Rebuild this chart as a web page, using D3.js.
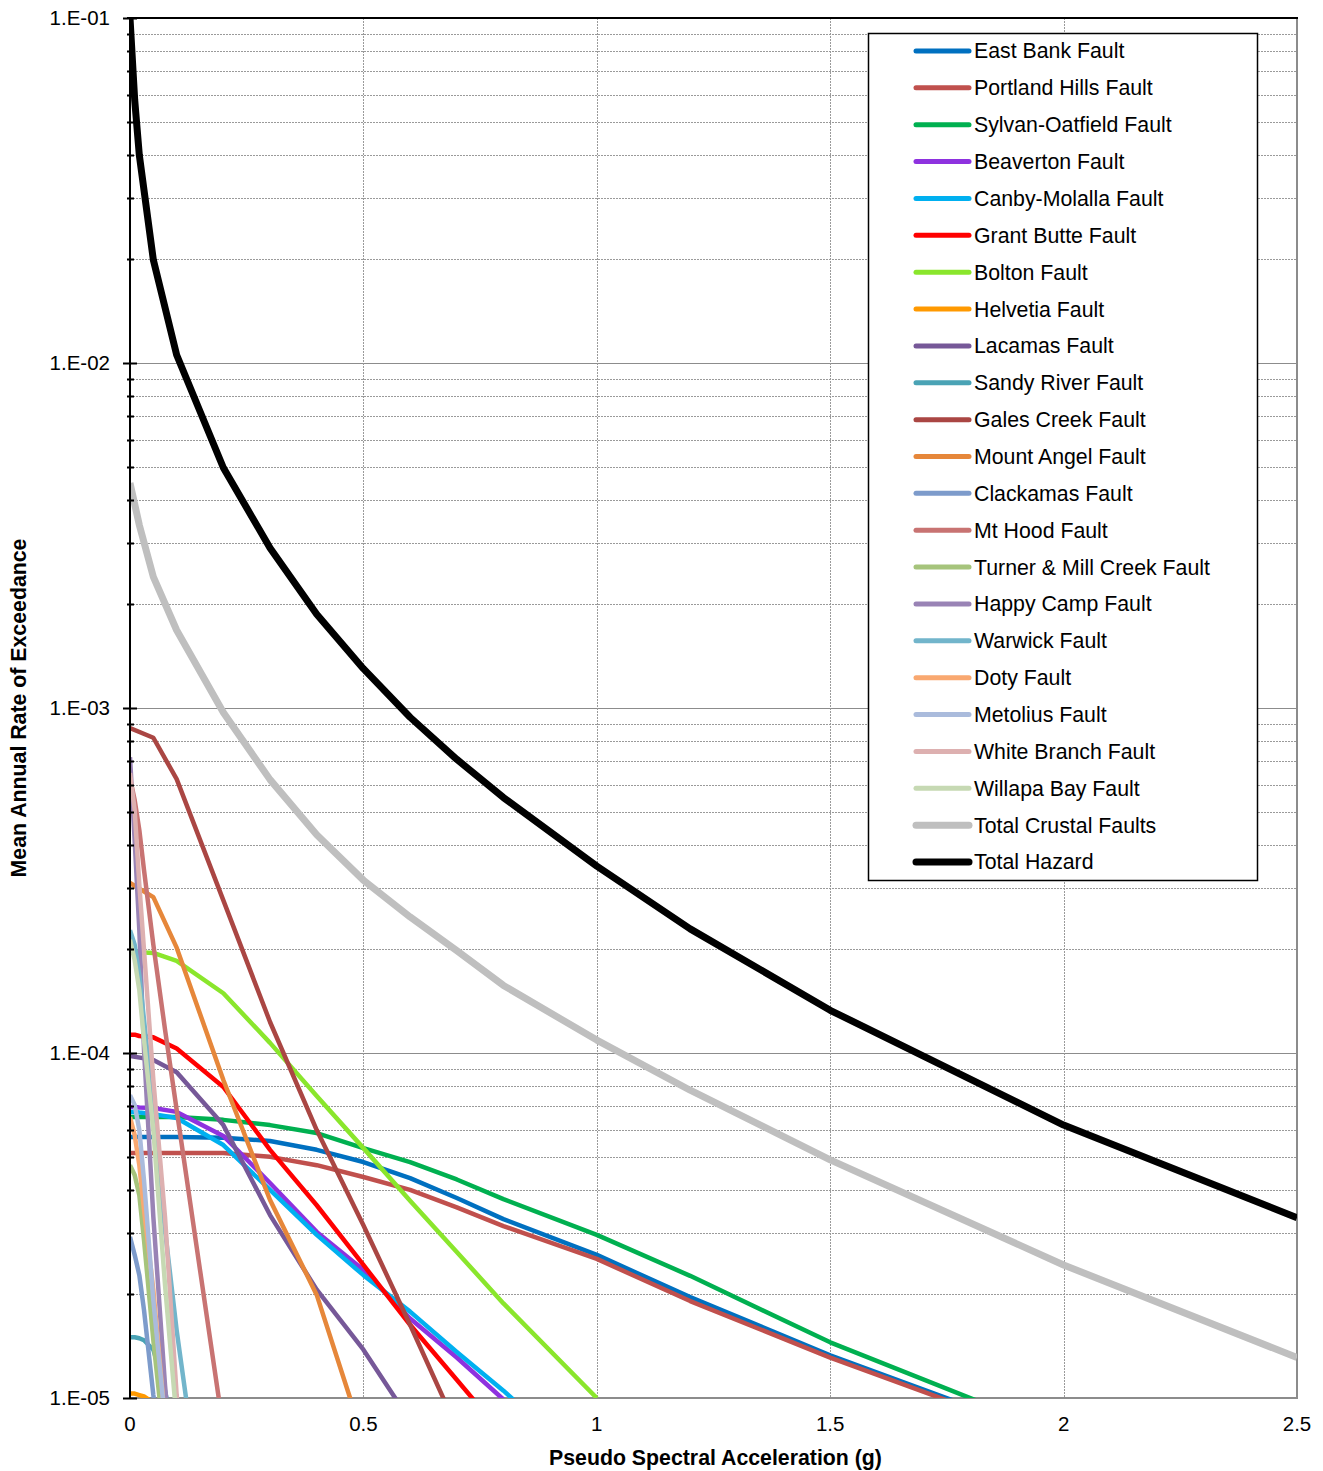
<!DOCTYPE html>
<html>
<head>
<meta charset="utf-8">
<script src="https://cdn.jsdelivr.net/npm/d3@7"></script>
<style>
  body { margin: 0; background: #fff; }
  svg { display: block; font-family: "Liberation Sans", Arial, sans-serif; }
</style>
</head>
<body>
<svg id="chart"></svg>
<script>
// x grids (g)
const pgaFull = [0, 0.01, 0.02, 0.05, 0.1, 0.2, 0.3, 0.4, 0.5, 0.6, 0.7, 0.8, 1.0, 1.2, 1.5, 2.0, 2.5];
const pgaMid = [0, 0.05, 0.1, 0.2, 0.3, 0.4, 0.5, 0.6, 0.7, 0.8];
const pgaNear = [0, 0.01, 0.02, 0.03, 0.05, 0.075, 0.1, 0.15, 0.2];

// mean annual rate of exceedance
const eastBank = [5.71e-5, 5.71e-5, 5.71e-5, 5.71e-5, 5.71e-5, 5.68e-5, 5.56e-5, 5.24e-5, 4.83e-5, 4.34e-5, 3.8e-5, 3.3e-5, 2.6e-5, 1.96e-5, 1.33e-5, 7.5e-6];
const portlandHills = [5.13e-5, 5.13e-5, 5.13e-5, 5.13e-5, 5.13e-5, 5.13e-5, 5.0e-5, 4.73e-5, 4.37e-5, 4.01e-5, 3.57e-5, 3.15e-5, 2.53e-5, 1.91e-5, 1.31e-5, 7.4e-6];
const sylvanOatfield = [6.52e-5, 6.52e-5, 6.52e-5, 6.52e-5, 6.52e-5, 6.4e-5, 6.18e-5, 5.86e-5, 5.3e-5, 4.83e-5, 4.3e-5, 3.77e-5, 2.97e-5, 2.26e-5, 1.45e-5, 7.8e-6];
const beaverton = [6.97e-5, 6.97e-5, 6.95e-5, 6.93e-5, 6.75e-5, 5.75e-5, 4.2e-5, 3.03e-5, 2.35e-5, 1.7e-5, 1.31e-5, 9.9e-6];
const canbyMolalla = [6.75e-5, 6.75e-5, 6.72e-5, 6.65e-5, 6.48e-5, 5.41e-5, 4.01e-5, 2.97e-5, 2.27e-5, 1.78e-5, 1.36e-5, 1.05e-5, 6e-6];
const grantButte = [1.13e-4, 1.13e-4, 1.12e-4, 1.11e-4, 1.03e-4, 7.97e-5, 5.24e-5, 3.62e-5, 2.43e-5, 1.63e-5, 1.13e-5, 7.8e-6];
const bolton = [1.96e-4, 1.96e-4, 1.96e-4, 1.95e-4, 1.85e-4, 1.49e-4, 1.07e-4, 7.5e-5, 5.3e-5, 3.73e-5, 2.65e-5, 1.88e-5, 1.0e-5];
const helvetia = [1.03e-5, 1.03e-5, 1.02e-5, 1.01e-5, 9.7e-6];
const lacamas = [9.8e-5, 9.55e-5, 8.8e-5, 6.18e-5, 3.39e-5, 2.06e-5, 1.38e-5, 8.6e-6];
const sandyRiver = [1.5e-5, 1.5e-5, 1.49e-5, 1.47e-5, 1.38e-5, 1.05e-5, 7.1e-6];
const galesCreek = [8.75e-4, 8.2e-4, 6.22e-4, 2.77e-4, 1.23e-4, 5.98e-5, 3.17e-5, 1.63e-5, 8.2e-6];
const mountAngel = [3.11e-4, 2.83e-4, 2.02e-4, 8.35e-5, 3.75e-5, 1.99e-5, 7.6e-6];
const clackamas = [2.93e-5, 2.6e-5, 2.27e-5, 1.8e-5, 1.02e-5, 5.8e-6];
const mtHood = [6.27e-4, 5.41e-4, 4.43e-4, 3.39e-4, 2.06e-4, 1.17e-4, 6.84e-5, 2.35e-5, 8.1e-6];
const turnerMillCreek = [4.73e-5, 4.43e-5, 3.87e-5, 2.87e-5, 1.47e-5, 7.1e-6];
const happyCamp = [7.2e-4, 4.14e-4, 2.27e-4, 1.02e-4, 3.35e-5, 1.09e-5, 4.5e-6];
const warwick = [2.27e-4, 2.06e-4, 1.68e-4, 1.25e-4, 6.84e-5, 3.07e-5, 1.57e-5, 5.1e-6];
const doty = [6.52e-5, 5.78e-5, 4.73e-5, 3.51e-5, 2.06e-5, 8.6e-6];
const metolius = [7.55e-5, 7.07e-5, 5.98e-5, 4.28e-5, 1.92e-5, 8.6e-6];
const whiteBranch = [6.48e-4, 5.06e-4, 3.07e-4, 1.99e-4, 8.35e-5, 3.35e-5, 1.02e-5, 1.9e-6];
const willapaBay = [2.13e-4, 1.86e-4, 1.52e-4, 1.09e-4, 5.98e-5, 2.13e-5, 8.6e-6];
const totalCrustal = [4.49e-3, 3.9e-3, 3.39e-3, 2.4e-3, 1.68e-3, 9.7e-4, 6.2e-4, 4.29e-4, 3.17e-4, 2.48e-4, 1.98e-4, 1.57e-4, 1.09e-4, 7.8e-5, 4.9e-5, 2.43e-5, 1.31e-5];
const totalHazard = [0.1, 0.058, 0.040, 0.0199, 0.01055, 4.97e-3, 2.91e-3, 1.87e-3, 1.3e-3, 9.4e-4, 7.1e-4, 5.5e-4, 3.48e-4, 2.29e-4, 1.33e-4, 6.18e-5, 3.33e-5];

const xTicks = [0, 0.5, 1, 1.5, 2, 2.5];
const yMajor = [1e-5, 1e-4, 1e-3, 1e-2, 1e-1];

const series = [
  { name: 'East Bank Fault', x: pgaFull, y: eastBank, color: '#0070C0', w: 4.5 },
  { name: 'Portland Hills Fault', x: pgaFull, y: portlandHills, color: '#C0504D', w: 4.5 },
  { name: 'Sylvan-Oatfield Fault', x: pgaFull, y: sylvanOatfield, color: '#00B050', w: 4.5 },
  { name: 'Beaverton Fault', x: pgaFull, y: beaverton, color: '#8E32DF', w: 4.5 },
  { name: 'Canby-Molalla Fault', x: pgaFull, y: canbyMolalla, color: '#00B0F0', w: 4.5 },
  { name: 'Grant Butte Fault', x: pgaFull, y: grantButte, color: '#FF0000', w: 4.5 },
  { name: 'Bolton Fault', x: pgaFull, y: bolton, color: '#8AE62C', w: 4.5 },
  { name: 'Helvetia Fault', x: pgaNear, y: helvetia, color: '#FF9900', w: 4.5 },
  { name: 'Lacamas Fault', x: pgaMid, y: lacamas, color: '#765898', w: 4.5 },
  { name: 'Sandy River Fault', x: pgaNear, y: sandyRiver, color: '#4AA3B5', w: 4.5 },
  { name: 'Gales Creek Fault', x: pgaMid, y: galesCreek, color: '#AA4643', w: 4.5 },
  { name: 'Mount Angel Fault', x: pgaMid, y: mountAngel, color: '#E6873A', w: 4.5 },
  { name: 'Clackamas Fault', x: pgaNear, y: clackamas, color: '#7D9BCB', w: 4.5 },
  { name: 'Mt Hood Fault', x: pgaNear, y: mtHood, color: '#C87372', w: 4.5 },
  { name: 'Turner & Mill Creek Fault', x: pgaNear, y: turnerMillCreek, color: '#A6C47C', w: 4.5 },
  { name: 'Happy Camp Fault', x: pgaNear, y: happyCamp, color: '#9983B5', w: 4.5 },
  { name: 'Warwick Fault', x: pgaNear, y: warwick, color: '#72B5CB', w: 4.5 },
  { name: 'Doty Fault', x: pgaNear, y: doty, color: '#F9A870', w: 4.5 },
  { name: 'Metolius Fault', x: pgaNear, y: metolius, color: '#AABBDC', w: 4.5 },
  { name: 'White Branch Fault', x: pgaNear, y: whiteBranch, color: '#DDB0B0', w: 4.5 },
  { name: 'Willapa Bay Fault', x: pgaNear, y: willapaBay, color: '#C6D9B3', w: 4.5 },
  { name: 'Total Crustal Faults', x: pgaFull, y: totalCrustal, color: '#BFBFBF', w: 7 },
  { name: 'Total Hazard', x: pgaFull, y: totalHazard, color: '#000000', w: 7 }
];

const width = 1323, height = 1471;
const margin = { top: 18, right: 26, bottom: 73, left: 130 };
const iw = width - margin.left - margin.right;
const ih = height - margin.top - margin.bottom;

const svg = d3.select('#chart').attr('width', width).attr('height', height);
const g = svg.append('g').attr('transform', 'translate(' + margin.left + ',' + margin.top + ')');

const x = d3.scaleLinear().domain([0, 2.5]).range([0, iw]);
const y = d3.scaleLog().domain([1e-5, 1e-1]).range([ih, 0]);

svg.append('defs').append('clipPath').attr('id', 'plot')
  .append('rect').attr('width', iw).attr('height', ih);

// minor grid
const minorVals = [];
for (let e = -5; e < -1; e++) {
  for (let m = 2; m <= 9; m++) minorVals.push(m * Math.pow(10, e));
}
g.append('g').selectAll('line').data(minorVals).enter().append('line')
  .attr('x1', 0).attr('x2', iw)
  .attr('y1', d => Math.round(y(d)) + 0.5).attr('y2', d => Math.round(y(d)) + 0.5)
  .attr('stroke', '#9a9a9a').attr('stroke-width', 1).attr('stroke-dasharray', '2,1');

g.append('g').selectAll('line').data(yMajor.slice(1, 4)).enter().append('line')
  .attr('x1', 0).attr('x2', iw)
  .attr('y1', d => Math.round(y(d)) + 0.5).attr('y2', d => Math.round(y(d)) + 0.5)
  .attr('stroke', '#8c8c8c').attr('stroke-width', 1);

g.append('g').selectAll('line').data(xTicks.slice(1, 5)).enter().append('line')
  .attr('x1', d => Math.round(x(d)) + 0.5).attr('x2', d => Math.round(x(d)) + 0.5)
  .attr('y1', 0).attr('y2', ih)
  .attr('stroke', '#9a9a9a').attr('stroke-width', 1).attr('stroke-dasharray', '2,1');

// frame: right and bottom gray, top and left black
g.append('line').attr('x1', iw).attr('x2', iw).attr('y1', 0).attr('y2', ih)
  .attr('stroke', '#8c8c8c').attr('stroke-width', 2);
g.append('line').attr('x1', 0).attr('x2', iw + 1).attr('y1', ih).attr('y2', ih)
  .attr('stroke', '#8c8c8c').attr('stroke-width', 2);
g.append('line').attr('x1', -3).attr('x2', iw + 1).attr('y1', 0).attr('y2', 0)
  .attr('stroke', '#000').attr('stroke-width', 2);

// series
const line = d3.line()
  .defined(d => d[1] != null)
  .x(d => x(d[0]))
  .y(d => y(d[1]));

const lines = g.append('g').attr('clip-path', 'url(#plot)');
series.forEach(s => {
  const pts = s.y.map((v, i) => [s.x[i], v]);
  lines.append('path')
    .datum(pts)
    .attr('fill', 'none')
    .attr('stroke', s.color)
    .attr('stroke-width', s.w)
    .attr('stroke-linejoin', 'round')
    .attr('d', line);
});

// left axis
g.append('line').attr('x1', 0).attr('x2', 0).attr('y1', -1).attr('y2', ih + 1)
  .attr('stroke', '#000').attr('stroke-width', 2);
g.append('g').selectAll('line').data(minorVals).enter().append('line')
  .attr('x1', -3).attr('x2', 4)
  .attr('y1', d => Math.round(y(d)) + 0.5).attr('y2', d => Math.round(y(d)) + 0.5)
  .attr('stroke', '#000').attr('stroke-width', 2);
g.append('g').selectAll('line').data(yMajor).enter().append('line')
  .attr('x1', -7).attr('x2', 7)
  .attr('y1', d => Math.round(y(d)) + 0.5).attr('y2', d => Math.round(y(d)) + 0.5)
  .attr('stroke', '#000').attr('stroke-width', 2);

g.append('g').selectAll('text').data(yMajor).enter().append('text')
  .attr('x', -20).attr('y', d => y(d)).attr('dy', '0.35em')
  .attr('text-anchor', 'end').attr('font-size', 20.5)
  .text(d => '1.E-' + String(-Math.round(Math.log10(d))).padStart(2, '0'));

// bottom labels
g.append('g').selectAll('text').data(xTicks).enter().append('text')
  .attr('x', d => x(d)).attr('y', ih + 33)
  .attr('text-anchor', 'middle').attr('font-size', 20.5)
  .text(d => d);

svg.append('text')
  .attr('x', margin.left + iw / 2 + 2).attr('y', 1465)
  .attr('text-anchor', 'middle').attr('font-size', 21.3).attr('font-weight', 'bold')
  .text('Pseudo Spectral Acceleration (g)');

svg.append('text')
  .attr('transform', 'translate(26,708) rotate(-90)')
  .attr('text-anchor', 'middle').attr('font-size', 21.3).attr('font-weight', 'bold')
  .text('Mean Annual Rate of Exceedance');

// legend
const lg = svg.append('g');
lg.append('rect').attr('x', 868.5).attr('y', 33.5).attr('width', 389).attr('height', 847)
  .attr('fill', '#fff').attr('stroke', '#000').attr('stroke-width', 1.5);
const step = (861 - 50) / (series.length - 1);
const item = lg.selectAll('.item').data(series).enter().append('g')
  .attr('transform', (d, i) => 'translate(0,' + (51 + i * step) + ')');
item.append('line').attr('x1', 916).attr('x2', 969).attr('y1', 0).attr('y2', 0)
  .attr('stroke', d => d.color).attr('stroke-width', d => d.w < 5 ? 5 : 7)
  .attr('stroke-linecap', 'round');
item.append('text').attr('x', 974).attr('y', 0).attr('dy', '0.35em')
  .attr('font-size', 21.3).text(d => d.name);
</script>
</body>
</html>
